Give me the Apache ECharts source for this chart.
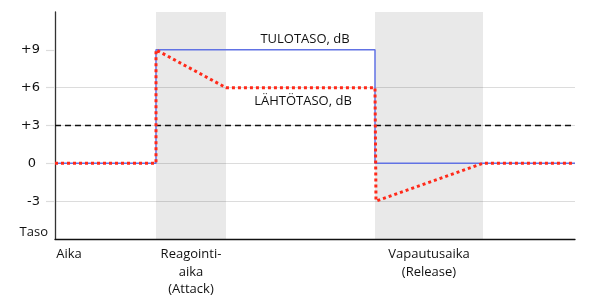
<!DOCTYPE html>
<html>
<head>
<meta charset="utf-8">
<script src="https://cdn.jsdelivr.net/npm/echarts@6/dist/echarts.min.js"></script>
<style>html,body{margin:0;padding:0;background:#fff}#c{width:600px;height:300px}</style>
</head>
<body>
<div id="c"></div>
<script>
// ---- data ----
const yTicks = [-3, 0, 3, 6, 9];
const yTickLabels = ['-3', '0', '+3', '+6', '+9'];
const yAxisTitle = 'Taso';
const yMin = -6, yMax = 12;
const xMin = 0, xMax = 520;
const attackBand = [101, 171];
const releaseBand = [320, 428];
const xLabelPos = [14, 136, 374];
const xLabels = ['Aika', 'Reagointi-\naika\n(Attack)', 'Vapautusaika\n(Release)'];
const inputX = [0, 101, 101, 320, 320, 520];
const inputY = [0, 0, 9, 9, 0, 0];
const outputX = [0, 101, 101, 171, 320, 321, 428, 520];
const outputY = [0, 0, 9, 6, 6, -3, 0, 0];
const threshold = 3;
const inputName = 'TULOTASO, dB';
const outputName = 'LÄHTÖTASO, dB';
const thresholdName = 'Kynnystaso';
const inputLabelPos = [250, 9];
const outputLabelPos = [248, 6];

const font = '"Open Sans", sans-serif';
const txt = '#111';
const zip = (xs, ys) => xs.map((x, i) => [x, ys[i]]);
const labelMap = {};
yTicks.forEach((v, i) => labelMap[v] = yTickLabels[i]);

const chart = echarts.init(document.getElementById('c'), null, {renderer: 'canvas'});
chart.setOption({
  animation: false,
  backgroundColor: '#fff',
  grid: {left: 55, right: 25, top: 12, bottom: 61, containLabel: false},
  xAxis: {
    type: 'value', min: xMin, max: xMax,
    axisLine: {show: true, onZero: false, lineStyle: {color: '#111', width: 1.3}},
    axisTick: {show: false},
    splitLine: {show: false},
    axisLabel: {
      customValues: xLabelPos,
      formatter: (v) => xLabels[xLabelPos.indexOf(v)] || '',
      color: txt, fontFamily: font, fontSize: 13, lineHeight: 17.5, margin: 7, align: 'center'
    }
  },
  yAxis: {
    type: 'value', min: yMin, max: yMax, interval: 3,
    axisLine: {show: true, onZero: false, lineStyle: {color: '#333', width: 1.3}},
    axisTick: {show: true, customValues: yTicks, length: 9, lineStyle: {color: '#dcdcdc', width: 1.2}},
    splitLine: {show: true, showMaxLine: false, lineStyle: {color: '#dcdcdc', width: 1.2}},
    axisLabel: {
      customValues: [yMin].concat(yTicks),
      margin: 7,
      formatter: (v) => {
        if (v === yMin) return '{t|' + yAxisTitle + '}';
        if (v === 0) return '{z|' + labelMap[v] + '}';
        return '{n|' + labelMap[v] + '}';
      },
      rich: {
        t: {fontFamily: font, fontSize: 13, color: txt, padding: [0, 0, 14, 0]},
        n: {fontFamily: 'DejaVu Sans', fontSize: 13, color: txt, padding: [0, 8, 0, 0]},
        z: {fontFamily: 'DejaVu Sans', fontSize: 13, color: txt, padding: [0, 12, 0, 0]}
      }
    }
  },
  series: [
    {
      type: 'line', name: 'bands', data: [], z: 1, clip: false,
      markArea: {
        silent: true,
        itemStyle: {color: 'rgba(0,0,0,0.088)'},
        data: [
          [{xAxis: attackBand[0], yAxis: yMax}, {xAxis: attackBand[1], yAxis: -11}],
          [{xAxis: releaseBand[0], yAxis: yMax}, {xAxis: releaseBand[1], yAxis: -11}]
        ]
      }
    },
    {
      type: 'line', name: thresholdName, data: [[xMin, threshold], [xMax, threshold]],
      symbol: 'none', z: 3,
      lineStyle: {color: '#111', width: 1.6, type: [6, 4]},
      markLine: {
        silent: true, symbol: 'none',
        lineStyle: {opacity: 0},
        label: {show: true, position: 'insideEndTop', formatter: thresholdName, color: txt, fontFamily: font, fontSize: 13, distance: [0, 4]},
        data: [{yAxis: threshold}]
      }
    },
    {
      type: 'line', name: inputName, data: zip(inputX, inputY),
      symbol: 'none', z: 4,
      lineStyle: {color: '#6172e4', width: 1.5},
      markPoint: {
        silent: true, symbol: 'circle', symbolSize: 1, itemStyle: {color: 'rgba(0,0,0,0)'},
        label: {show: true, formatter: inputName, color: txt, fontFamily: font, fontSize: 13, offset: [0, -11]},
        data: [{coord: inputLabelPos}]
      }
    },
    {
      type: 'line', name: outputName, data: zip(outputX, outputY),
      symbol: 'none', z: 5,
      lineStyle: {color: '#ff2a1a', width: 3, type: [3, 3], cap: 'butt'},
      markPoint: {
        silent: true, symbol: 'circle', symbolSize: 1, itemStyle: {color: 'rgba(0,0,0,0)'},
        label: {show: true, formatter: outputName, color: txt, fontFamily: font, fontSize: 13, offset: [0, 14]},
        data: [{coord: outputLabelPos}]
      }
    }
  ]
});
</script>
</body>
</html>
